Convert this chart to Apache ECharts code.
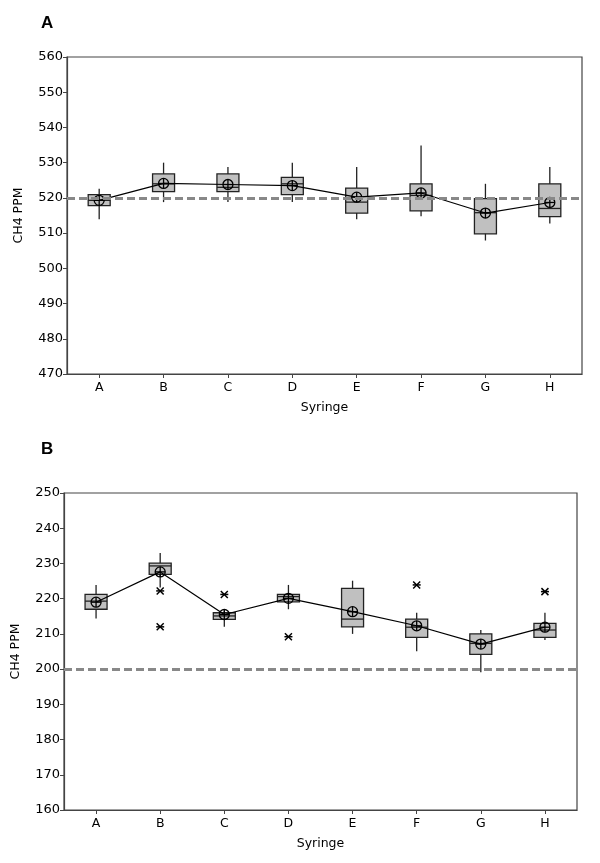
<!DOCTYPE html>
<html>
<head>
<meta charset="utf-8">
<script src="https://cdn.jsdelivr.net/npm/echarts@6/dist/echarts.min.js"></script>
<style>html,body{margin:0;padding:0;background:#fff}#c{width:600px;height:863px}</style>
</head>
<body>
<div id="c"></div>
<script>
const categories = ['A','B','C','D','E','F','G','H'];

// Panel A (reference 520 ppm)
const aMin  = [513.9, 518.8, 518.8, 518.8, 513.9, 514.8, 507.9, 512.7];
const aQ1   = [517.8, 521.8, 521.8, 520.9, 515.7, 516.3, 509.8, 514.7];
const aMed  = [519.3, 524.0, 523.0, 524.0, 518.8, 520.7, 515.8, 517.0];
const aQ3   = [520.9, 526.8, 526.8, 525.8, 522.8, 524.0, 519.8, 524.0];
const aMax  = [522.6, 530.0, 528.8, 530.0, 528.8, 534.9, 524.0, 528.8];
const aMean = [519.3, 524.1, 523.8, 523.5, 520.2, 521.4, 515.7, 518.7];
const aRef = 520;
const aTicks = [470, 560, 10];

// Panel B (reference 200 ppm)
const bMin  = [214.4, 223.2, 212.0, 217.0, 210.0, 205.1, 199.1, 208.3];
const bQ1   = [217.0, 226.9, 214.1, 219.1, 212.0, 209.0, 204.2, 209.0];
const bMed  = [219.3, 229.3, 215.1, 220.6, 214.2, 211.9, 207.3, 211.1];
const bQ3   = [221.2, 230.1, 216.0, 221.2, 222.9, 214.2, 210.0, 213.0];
const bMax  = [223.9, 233.0, 216.6, 223.9, 225.1, 216.0, 211.1, 216.0];
const bMean = [219.0, 227.6, 215.5, 220.1, 216.3, 212.3, 207.1, 211.9];
const bOutCat = ['B', 'B', 'C', 'D', 'F', 'H'];
const bOutVal = [222.2, 212.0, 221.2, 209.2, 223.9, 222.0];
const bRef = 200;
const bTicks = [160, 250, 10];

const FONT = 'DejaVu Sans';
const chart = echarts.init(document.getElementById('c'), null, {renderer:'canvas'});

function boxData(mn, q1, md, q3, mx) {
  return categories.map((c, i) => [i, mn[i], q1[i], md[i], q3[i], mx[i]]);
}
function renderBox(params, api) {
  const i = api.value(0);
  const pMin = api.coord([i, api.value(1)]);
  const pQ1 = api.coord([i, api.value(2)]);
  const pMed = api.coord([i, api.value(3)]);
  const pQ3 = api.coord([i, api.value(4)]);
  const pMax = api.coord([i, api.value(5)]);
  const w = 22, x = pMin[0];
  const st = {stroke:'#222', lineWidth:1.3};
  return {type:'group', children:[
    {type:'line', shape:{x1:x, y1:pMax[1], x2:x, y2:pMin[1]}, style:st},
    {type:'rect', shape:{x:x - w/2, y:pQ3[1], width:w, height:pQ1[1] - pQ3[1]}, style:{fill:'#c0c0c0', stroke:'#222', lineWidth:1.3}},
    {type:'line', shape:{x1:x - w/2, y1:pMed[1], x2:x + w/2, y2:pMed[1]}, style:st}
  ]};
}
function renderMean(params, api) {
  const p = api.coord([api.value(0), api.value(1)]);
  const r = 5;
  const st = {stroke:'#000', lineWidth:1.3, fill:null};
  return {type:'group', children:[
    {type:'circle', shape:{cx:p[0], cy:p[1], r:r}, style:{stroke:'#000', lineWidth:1.3, fill:'rgba(0,0,0,0)'}},
    {type:'line', shape:{x1:p[0]-r, y1:p[1], x2:p[0]+r, y2:p[1]}, style:st},
    {type:'line', shape:{x1:p[0], y1:p[1]-r, x2:p[0], y2:p[1]+r}, style:st}
  ]};
}
function renderStar(params, api) {
  const p = api.coord([api.value(0), api.value(1)]);
  const s = 3.5;
  const st = {stroke:'#000', lineWidth:1.5};
  return {type:'group', children:[
    {type:'line', shape:{x1:p[0]-s, y1:p[1]-s, x2:p[0]+s, y2:p[1]+s}, style:st},
    {type:'line', shape:{x1:p[0]-s, y1:p[1]+s, x2:p[0]+s, y2:p[1]-s}, style:st},
    {type:'line', shape:{x1:p[0]-s-0.5, y1:p[1], x2:p[0]+s+0.5, y2:p[1]}, style:st}
  ]};
}

function xAxisCfg(gi) {
  return {
    type:'category', gridIndex:gi, data:categories, boundaryGap:true,
    name:'Syringe', nameLocation:'middle', nameGap:27,
    nameTextStyle:{fontFamily:FONT, fontSize:12.5, color:'#000'},
    axisLine:{show:true, lineStyle:{color:'#444', width:1.2}},
    axisTick:{show:true, alignWithLabel:true, length:4, lineStyle:{color:'#444'}},
    axisLabel:{fontFamily:FONT, fontSize:12.5, color:'#000', margin:7},
    splitLine:{show:false}
  };
}
function yAxisCfg(gi, t) {
  return {
    type:'value', gridIndex:gi, min:t[0], max:t[1], interval:t[2],
    name:'CH4 PPM', nameLocation:'middle', nameGap:42,
    nameTextStyle:{fontFamily:FONT, fontSize:12.5, color:'#000'},
    axisLine:{show:true, lineStyle:{color:'#444', width:1.2}},
    axisTick:{show:true, length:4, lineStyle:{color:'#444'}},
    axisLabel:{fontFamily:FONT, fontSize:13, color:'#000', margin:4},
    splitLine:{show:false}
  };
}

const refLine = v => ({
  silent:true, symbol:'none', label:{show:false},
  lineStyle:{color:'#888', type:[8,4], width:3},
  data:[{yAxis:v}]
});

const option = {
  animation:false,
  backgroundColor:'#fff',
  title:[
    {text:'A', left:36, top:10, textStyle:{fontFamily:'Liberation Sans', fontSize:17, fontWeight:'bold', color:'#000'}},
    {text:'B', left:36, top:436, textStyle:{fontFamily:'Liberation Sans', fontSize:17, fontWeight:'bold', color:'#000'}}
  ],
  grid:[
    {left:67, right:18, top:57, height:317, show:true, borderColor:'#444', borderWidth:1.2, backgroundColor:'#fff'},
    {left:64, right:23, top:493, height:317, show:true, borderColor:'#444', borderWidth:1.2, backgroundColor:'#fff'}
  ],
  xAxis:[xAxisCfg(0), xAxisCfg(1)],
  yAxis:[yAxisCfg(0, aTicks), yAxisCfg(1, bTicks)],
  series:[
    {type:'custom', xAxisIndex:0, yAxisIndex:0, renderItem:renderBox, data:boxData(aMin,aQ1,aMed,aQ3,aMax), encode:{x:0, y:[1,2,3,4,5]}, z:2},
    {type:'line', xAxisIndex:0, yAxisIndex:0, data:aMean, symbol:'none', lineStyle:{color:'#000', width:1.2}, z:3, markLine:refLine(aRef)},
    {type:'custom', xAxisIndex:0, yAxisIndex:0, renderItem:renderMean, data:aMean.map((v,i)=>[i,v]), encode:{x:0,y:1}, z:4},

    {type:'custom', xAxisIndex:1, yAxisIndex:1, renderItem:renderBox, data:boxData(bMin,bQ1,bMed,bQ3,bMax), encode:{x:0, y:[1,2,3,4,5]}, z:2},
    {type:'line', xAxisIndex:1, yAxisIndex:1, data:bMean, symbol:'none', lineStyle:{color:'#000', width:1.2}, z:3, markLine:refLine(bRef)},
    {type:'custom', xAxisIndex:1, yAxisIndex:1, renderItem:renderMean, data:bMean.map((v,i)=>[i,v]), encode:{x:0,y:1}, z:4},
    {type:'custom', xAxisIndex:1, yAxisIndex:1, renderItem:renderStar, data:bOutCat.map((c,i)=>[categories.indexOf(c), bOutVal[i]]), encode:{x:0,y:1}, z:4}
  ]
};
chart.setOption(option);
</script>
</body>
</html>
